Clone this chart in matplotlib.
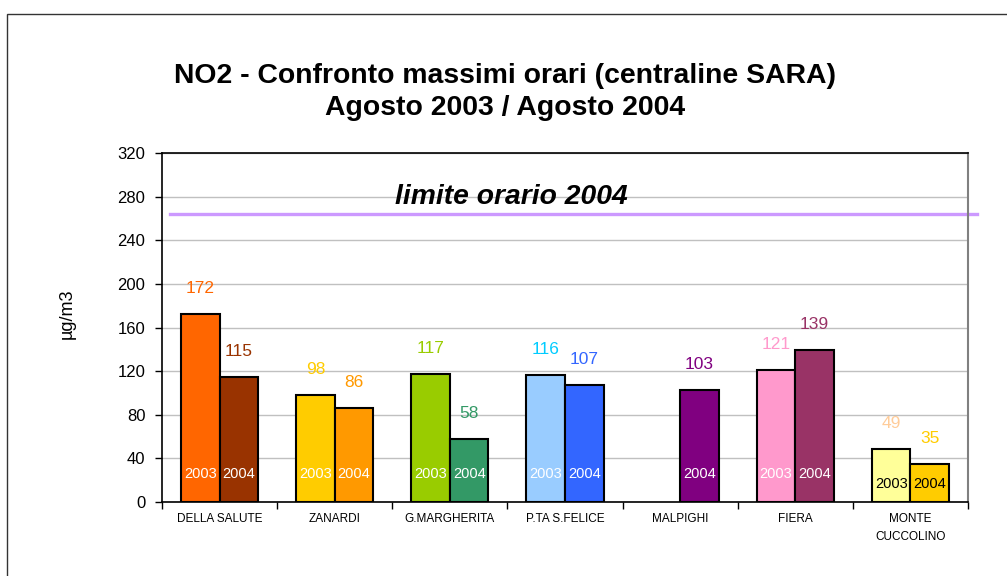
import numpy as np
import matplotlib
matplotlib.use("Agg")
import matplotlib.pyplot as plt
from matplotlib.patches import Rectangle

plt.rcParams["font.family"] = ["Liberation Sans", "DejaVu Sans"]

STATIONS = ["DELLA SALUTE", "ZANARDI", "G.MARGHERITA", "P.TA S.FELICE",
            "MALPIGHI", "FIERA", "MONTE\nCUCCOLINO"]
VAL_2003 = [172, 98, 117, 116, np.nan, 121, 49]
VAL_2004 = [115, 86, 58, 107, 103, 139, 35]
LIMIT_2004 = 264

FILL_2003 = ["#FF6600", "#FFCC00", "#99CC00", "#99CCFF", "#FFFFFF", "#FF99CC", "#FFFF99"]
FILL_2004 = ["#993300", "#FF9900", "#339966", "#3366FF", "#800080", "#993366", "#FFCC00"]
LBL_2003 = ["#FF6600", "#FFCC00", "#99CC00", "#00CCFF", "#FFFFFF", "#FF99CC", "#FFCC99"]
LBL_2004 = ["#993300", "#FF9900", "#339966", "#3366FF", "#800080", "#993366", "#FFCC00"]
INNER_TXT = ["white"] * 6 + ["black"]

BAR_W = 0.335

fig = plt.figure(figsize=(10.07, 5.76), dpi=100)
fig.patches.append(Rectangle((7 / 1007, -0.1), 1.2, 1.1 - 14 / 576,
                             transform=fig.transFigure, fill=False,
                             edgecolor="#333333", lw=1.0))
ax = fig.add_axes([162 / 1007, 74 / 576, 806 / 1007, 349 / 576])

x = np.arange(len(STATIONS))
for i in x:
    for off, vals, fills, lbls, yr in ((-BAR_W / 2, VAL_2003, FILL_2003, LBL_2003, "2003"),
                                       (BAR_W / 2, VAL_2004, FILL_2004, LBL_2004, "2004")):
        v = vals[i]
        if np.isnan(v):
            continue
        ax.bar(i + off, v, width=BAR_W, color=fills[i], edgecolor="black",
               linewidth=1.5, zorder=3)
        ax.annotate(f"{v:g}", (i + off, v), xytext=(0, 13), textcoords="offset points",
                    ha="center", va="bottom", fontsize=12.5, color=lbls[i])
        # year tag inside the bar, lower for the short Monte Cuccolino bars
        ax.text(i + off, 26 if v >= 55 else 16.5, yr, ha="center", va="center",
                fontsize=10.5, color=INNER_TXT[i], zorder=4)

ax.axhline(LIMIT_2004, xmin=0.01, xmax=1.011, color="#CC99FF", lw=2.4,
           clip_on=False, zorder=2)
ax.text(0.433, 280, "limite orario 2004", transform=ax.get_yaxis_transform(),
        ha="center", va="center", fontsize=20.3, fontweight="bold",
        fontstyle="italic", zorder=5)

ax.set_xlim(-0.5, len(STATIONS) - 0.5)
ax.set_ylim(0, 320)
ax.set_yticks(np.arange(0, 321, 40))
ax.tick_params(axis="y", labelsize=12, length=5, width=1, pad=7, direction="out")
ax.set_xticks(x)
ax.set_xticklabels(STATIONS, fontsize=8.5, va="top", linespacing=1.6)
ax.tick_params(axis="x", which="major", length=0, pad=8)
ax.set_xticks(np.arange(-0.5, len(STATIONS)), minor=True)
ax.tick_params(axis="x", which="minor", length=5, width=1, direction="out")
ax.grid(axis="y", color="#C0C0C0", lw=1, zorder=0)
ax.set_axisbelow(True)
for s in ("left", "bottom", "top"):
    ax.spines[s].set_color("black")
    ax.spines[s].set_linewidth(1.2)
ax.spines["right"].set_color("#808080")
ax.spines["right"].set_linewidth(1.5)

fig.text(67 / 1007, 1 - 314 / 576, "µg/m3", rotation=90, ha="center",
         va="center", fontsize=13)
fig.text(505 / 1007, 1 - 92 / 576,
         "NO2 - Confronto massimi orari (centraline SARA)\nAgosto 2003 / Agosto 2004",
         ha="center", va="center", fontsize=20.4, fontweight="bold",
         linespacing=1.32)

fig.savefig("out.png", dpi=100)
